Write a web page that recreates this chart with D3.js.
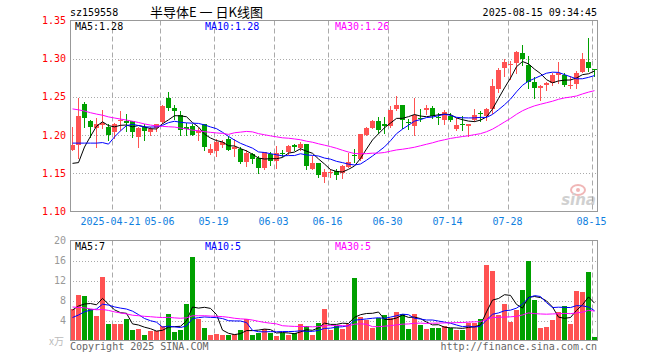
<!DOCTYPE html>
<html>
<head>
<meta charset="utf-8">
<script src="https://cdn.jsdelivr.net/npm/d3@7"></script>
<style>
body { margin: 0; background: #fff; }
svg text { font-family: 'DejaVu Sans Mono', monospace; font-size: 10px; }
</style>
</head>
<body>
<div id="chart"></div>
<script>
// trading days shown (MM-DD, 2025)
const dates = ['04-10','04-11','04-14','04-15','04-16','04-17','04-18','04-21','04-22','04-23',
'04-24','04-25','04-28','04-29','04-30','05-06','05-07','05-08','05-09','05-12',
'05-13','05-14','05-15','05-16','05-19','05-20','05-21','05-22','05-23','05-26',
'05-27','05-28','05-29','05-30','06-03','06-04','06-05','06-06','06-09','06-10',
'06-11','06-12','06-13','06-16','06-17','06-18','06-19','06-20','06-23','06-24',
'06-25','06-26','06-27','06-30','07-01','07-02','07-03','07-04','07-07','07-08',
'07-09','07-10','07-11','07-14','07-15','07-16','07-17','07-18','07-21','07-22',
'07-23','07-24','07-25','07-28','07-29','07-30','07-31','08-01','08-04','08-05',
'08-06','08-07','08-08','08-11','08-12','08-13','08-14','08-15']

const open = [1.181,1.187,1.241,1.219,1.209,1.213,1.211,1.204,1.218,1.218,
1.218,1.198,1.210,1.204,1.209,1.217,1.248,1.235,1.226,1.210,
1.212,1.203,1.214,1.177,1.179,1.187,1.195,1.182,1.182,1.1645,
1.175,1.1706,1.1566,1.175,1.1667,1.177,1.1785,1.1864,1.1829,1.1886,
1.1557,1.1632,1.1456,1.150,1.1535,1.1509,1.1588,1.1735,1.1684,1.2004,
1.2092,1.218,1.215,1.2123,1.2347,1.2399,1.2175,1.2114,1.2228,1.2325,
1.2355,1.2241,1.2202,1.2254,1.2083,1.214,1.2114,1.2193,1.2293,1.2254,
1.2347,1.2605,1.2882,1.2912,1.2947,1.3079,1.2912,1.2693,1.261,1.2662,
1.2684,1.2785,1.2781,1.264,1.2671,1.2825,1.2961,1.2868]

const close = [1.187,1.225,1.222,1.210,1.214,1.216,1.200,1.214,1.220,1.216,
1.204,1.209,1.205,1.208,1.214,1.238,1.235,1.232,1.207,1.208,
1.200,1.206,1.185,1.182,1.191,1.191,1.181,1.184,1.1645,1.1763,
1.1684,1.1566,1.1776,1.1667,1.1763,1.1765,1.1851,1.1842,1.1886,1.160,
1.1632,1.1478,1.1513,1.152,1.1478,1.1596,1.1653,1.173,1.2018,1.2092,
1.2189,1.2061,1.212,1.2325,1.2399,1.2193,1.2171,1.2259,1.2224,1.2355,
1.2254,1.2237,1.2303,1.2193,1.2136,1.2136,1.2149,1.2268,1.229,1.2347,
1.2649,1.2847,1.2956,1.2934,1.3088,1.2991,1.2693,1.261,1.2649,1.2684,
1.2785,1.2816,1.2662,1.2662,1.2816,1.300,1.2873,1.2846]

const high = [1.210,1.248,1.243,1.220,1.222,1.233,1.214,1.216,1.232,1.227,
1.219,1.211,1.214,1.211,1.215,1.239,1.257,1.239,1.231,1.216,
1.214,1.209,1.215,1.188,1.1947,1.194,1.199,1.195,1.185,1.180,
1.176,1.172,1.178,1.178,1.186,1.180,1.187,1.189,1.191,1.189,
1.172,1.164,1.156,1.156,1.155,1.161,1.177,1.182,1.202,1.211,
1.220,1.224,1.224,1.238,1.251,1.240,1.221,1.248,1.234,1.240,
1.238,1.229,1.233,1.229,1.222,1.225,1.215,1.234,1.231,1.236,
1.273,1.288,1.299,1.297,1.310,1.3175,1.304,1.276,1.265,1.269,
1.281,1.296,1.281,1.278,1.284,1.307,1.327,1.287]

const low = [1.180,1.170,1.211,1.197,1.185,1.209,1.193,1.196,1.207,1.205,
1.198,1.185,1.194,1.200,1.205,1.216,1.233,1.221,1.200,1.200,
1.200,1.194,1.181,1.175,1.173,1.184,1.180,1.173,1.163,1.160,
1.164,1.150,1.155,1.161,1.157,1.172,1.175,1.180,1.180,1.155,
1.155,1.145,1.139,1.145,1.143,1.144,1.158,1.165,1.168,1.200,
1.209,1.203,1.203,1.211,1.233,1.209,1.208,1.200,1.218,1.227,
1.222,1.215,1.215,1.218,1.207,1.207,1.199,1.219,1.219,1.220,
1.229,1.257,1.278,1.274,1.281,1.292,1.262,1.248,1.2465,1.259,
1.265,1.2684,1.264,1.261,1.261,1.282,1.284,1.277]

// volume, 万
const volume = [6.3,9.2,9.0,6.3,4.9,12.7,3.4,3.4,3.4,4.3,
2.1,2.3,1.2,1.9,1.9,2.9,5.4,1.8,2.2,7.4,
16.7,4.3,2.6,1.1,1.3,1.1,1.1,1.3,2.1,4.3,
1.1,1.6,2.3,1.6,0.9,1.6,1.1,1.6,3.4,3.0,
1.1,3.6,6.3,2.1,3.0,2.3,3.3,12.5,4.7,4.2,
2.5,4.6,5.1,4.6,5.7,5.4,2.3,5.4,3.1,2.3,
2.5,2.5,2.9,2.5,2.1,2.1,3.5,3.5,4.4,15.1,
13.9,5.1,7.3,3.7,6.1,10.2,15.9,8.1,2.6,2.8,
4.1,5.8,6.9,3.4,9.9,9.7,13.7,0.7]

// days before the visible window, only feed the moving averages
const priorClose = [1.262,1.270,1.275,1.268,1.260,1.266,1.258,1.262,1.255,1.250,
1.258,1.262,1.252,1.248,1.255,1.250,1.245,1.248,1.240,1.250,
1.225,1.222,1.210,1.214,1.209,1.22,1.12,1.14,1.148]
const priorVolume = [12,11,13,10,11,9,12,10,10,9.9,
5.5,4.8,4.2,5.0,4.6,4.3,5.1,4.4,4.7,4.5,
4.2,2.5,3.0,2.8,3.0,5.2,7.0,5.8,6.2]

const tickDates = ['04-21','05-06','05-19','06-03','06-16','06-30','07-14','07-28','08-15']
const tickLabels = ['2025-04-21','05-06','05-19','06-03','06-16','06-30','07-14','07-28','08-15']
const priceTicks = [1.10,1.15,1.20,1.25,1.30,1.35]
const volTicks = [4,8,12,16,20]

const RED = '#ff5252', GREEN = '#00a000', GRID = '#aaa'
const maColors = {5: '#000', 10: '#0000ff', 30: '#ff00ff'}

const movingAvg = (arr, prior, n) => {
	const full = prior.concat(arr)
	return arr.map((d, i) => d3.mean(full.slice(prior.length + i - n + 1, prior.length + i + 1)))
}

const svg = d3.select('#chart').append('svg')
.attr('width', 660)
.attr('height', 360)

const left = 70, right = 597

const x = d3.scaleBand()
.domain(d3.range(dates.length))
.range([left, left + 6 * dates.length])

const bw = x.bandwidth() - 1

const y = d3.scaleLinear().domain([1.10, 1.35]).range([211.5, 20.5])
const yv = d3.scaleLinear().domain([0, 20]).range([340.5, 240.5])

const crisp = v => Math.round(v) + 0.5

// grid
const drawGrid = (scale, ticks, top, bottom) => {
	svg.append('g').selectAll('line')
	.data(ticks.filter(t => t !== scale.domain()[0] && t !== scale.domain()[1]))
	.join('line')
	.attr('x1', left).attr('x2', right)
	.attr('y1', d => crisp(scale(d))).attr('y2', d => crisp(scale(d)))
	.attr('stroke', GRID)
	.attr('stroke-dasharray', '1,2')

	svg.append('g').selectAll('line')
	.data(tickDates)
	.join('line')
	.attr('x1', d => x(dates.indexOf(d)) + 0.5).attr('x2', d => x(dates.indexOf(d)) + 0.5)
	.attr('y1', top).attr('y2', bottom)
	.attr('stroke', GRID)
	.attr('stroke-dasharray', '5,3')
}

drawGrid(y, priceTicks, 20.5, 211.5)
drawGrid(yv, volTicks, 240.5, 340.5)

// candles
const isUp = i => close[i] >= open[i]

const candles = svg.append('g').selectAll('g')
.data(d3.range(dates.length))
.join('g')

candles.append('line')
.attr('x1', i => x(i) + 2.5).attr('x2', i => x(i) + 2.5)
.attr('y1', i => Math.round(y(high[i]))).attr('y2', i => Math.round(y(low[i])) + 1)
.attr('stroke', i => isUp(i) ? RED : GREEN)

candles.append('rect')
.attr('x', i => x(i))
.attr('width', bw)
.attr('y', i => Math.round(y(Math.max(open[i], close[i]))))
.attr('height', i => Math.max(1, Math.round(y(Math.min(open[i], close[i]))) - Math.round(y(Math.max(open[i], close[i])))))
.attr('fill', i => isUp(i) ? RED : GREEN)

// volume bars
svg.append('g').selectAll('rect')
.data(d3.range(dates.length))
.join('rect')
.attr('x', i => x(i))
.attr('width', bw)
.attr('y', i => Math.round(yv(volume[i])))
.attr('height', i => 340 - Math.round(yv(volume[i])))
.attr('fill', i => isUp(i) ? RED : GREEN)

// moving averages
const priceMA = {}, volMA = {}
;[5, 10, 30].forEach(n => {
	priceMA[n] = movingAvg(close, priorClose, n)
	volMA[n] = movingAvg(volume, priorVolume, n)

	svg.append('path')
	.datum(priceMA[n])
	.attr('fill', 'none')
	.attr('stroke', maColors[n])
	.attr('d', d3.line().x((d, i) => x(i) + 2.5).y(d => y(d)))

	svg.append('path')
	.datum(volMA[n])
	.attr('fill', 'none')
	.attr('stroke', maColors[n])
	.attr('d', d3.line().x((d, i) => x(i) + 2.5).y(d => yv(d)))
})

// frames
svg.append('rect').attr('x', 70.5).attr('y', 20.5).attr('width', right - 70).attr('height', 191)
.attr('fill', 'none').attr('stroke', '#999')
svg.append('rect').attr('x', 70.5).attr('y', 240.5).attr('width', right - 70).attr('height', 100)
.attr('fill', 'none').attr('stroke', '#999')

// axis labels
svg.append('g').selectAll('text')
.data(priceTicks)
.join('text')
.attr('x', 66).attr('y', d => y(d)).attr('dy', '0.35em')
.attr('text-anchor', 'end')
.attr('fill', '#ff0000')
.text(d => d.toFixed(2))

svg.append('g').selectAll('text')
.data(volTicks)
.join('text')
.attr('x', 66).attr('y', d => yv(d)).attr('dy', '0.35em')
.attr('text-anchor', 'end')
.attr('fill', '#999')
.text(d => d)

svg.append('text')
.attr('x', 64).attr('y', 345)
.attr('text-anchor', 'end')
.attr('fill', '#bbb')
.style('font-family', "'Noto Sans CJK SC'")
.style('font-size', '10px')
.text('x万')

svg.append('g').selectAll('text')
.data(tickDates)
.join('text')
.attr('x', (d, i) => x(dates.indexOf(d)) + 0.5 - (i === 0 ? 2 : 1))
.attr('y', 225)
.attr('text-anchor', 'middle')
.attr('fill', '#1080e0')
.text((d, i) => tickLabels[i])

// header
svg.append('text').attr('x', 70).attr('y', 16).text('sz159558')
svg.append('text').attr('x', 150).attr('y', 17)
.style('font-family', "'Noto Sans CJK SC'").style('font-size', '13px')
.text('半导体E 一 日K线图')
svg.append('text').attr('x', right).attr('y', 16).attr('text-anchor', 'end').text('2025-08-15 09:34:45')

// legends
const last = dates.length - 1
const legendX = {5: 75, 10: 205, 30: 335}
;[5, 10, 30].forEach(n => {
	svg.append('text').attr('x', legendX[n]).attr('y', 29.5).attr('fill', maColors[n])
	.text(`MA${n}:${priceMA[n][last].toFixed(2)}`)
	svg.append('text').attr('x', legendX[n]).attr('y', 250).attr('fill', maColors[n])
	.text(`MA${n}:${Math.floor(volMA[n][last])}`)
})

// footer
svg.append('text').attr('x', 70).attr('y', 349.5).attr('fill', '#666').text('Copyright 2025 SINA.COM')
svg.append('text').attr('x', right).attr('y', 349.5).attr('text-anchor', 'end').attr('fill', '#666').text('http://finance.sina.com.cn')

// sina watermark
const wm = svg.append('g').attr('opacity', 0.45)
wm.append('ellipse').attr('cx', 578).attr('cy', 190).attr('rx', 7).attr('ry', 5)
.attr('fill', 'none').attr('stroke', '#e06060').attr('stroke-width', 2)
wm.append('circle').attr('cx', 578).attr('cy', 190).attr('r', 2).attr('fill', '#e06060')
wm.append('text').attr('x', 596).attr('y', 205).attr('text-anchor', 'end')
.style('font-family', "'DejaVu Sans'").style('font-size', '15px').style('font-style', 'italic').style('font-weight', 'bold')
.attr('fill', '#999').text('sina')
</script>
</body>
</html>
